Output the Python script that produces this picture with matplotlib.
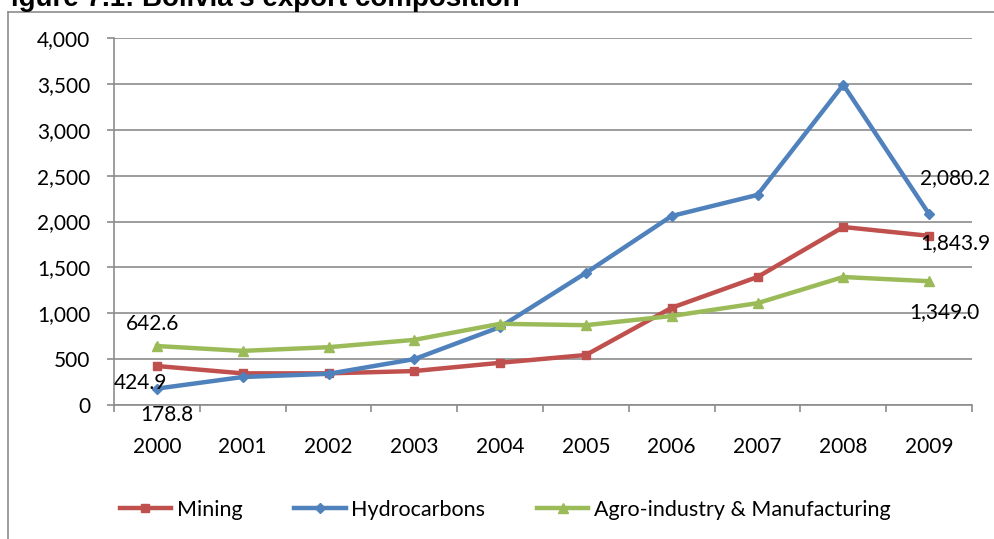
import matplotlib
matplotlib.use("Agg")
import matplotlib.pyplot as plt
from matplotlib.lines import Line2D
from matplotlib.ticker import FuncFormatter, MultipleLocator

plt.rcParams['font.family'] = ['Lato', 'DejaVu Sans']

years = ["2000", "2001", "2002", "2003", "2004", "2005", "2006", "2007", "2008", "2009"]
mining = [424.9, 345, 345, 370, 460, 545, 1060, 1395, 1940, 1843.9]
hydrocarbons = [178.8, 305, 340, 500, 850, 1440, 2060, 2290, 3490, 2080.2]
agro = [642.6, 590, 630, 710, 885, 870, 970, 1110, 1395, 1349.0]

# labels shown on the chart: (series, index, offset in points)
labels = [
    ("agro", 0, (-3, 16)),
    ("mining", 0, (-12, -12)),
    ("hydro", 0, (7, -19)),
    ("hydro", 9, (19, 26)),
    ("mining", 9, (19, -5)),
    ("agro", 9, (11, -22)),
]

red = "#C0504D"
blue = "#4F81BD"
green = "#9BBB59"
grid = "#8C8C8C"

fig = plt.figure(figsize=(9.94, 5.39), dpi=100)
ax = fig.add_axes([114 / 994, 1 - 405 / 539, 858 / 994, 367 / 539])

x = list(range(len(years)))
series = {
    "mining": (mining, red, "s", 5.5, "Mining"),
    "hydro": (hydrocarbons, blue, "D", 5, "Hydrocarbons"),
    "agro": (agro, green, "^", 7.5, "Agro-industry & Manufacturing"),
}
for key in ["mining", "hydro", "agro"]:
    vals, col, mk, ms, name = series[key]
    ax.plot(x, vals, color=col, lw=3.2, marker=mk, ms=ms, label=name, zorder=3)

for key, i, off in labels:
    v = series[key][0][i]
    ax.annotate(f"{v:,.1f}", (i, v), xytext=off, textcoords="offset points",
                ha="center", va="center", fontsize=15, color="black", zorder=4)

ax.set_xlim(-0.5, 9.5)
ax.set_ylim(0, 4000)
ax.yaxis.set_major_locator(MultipleLocator(500))
ax.yaxis.set_major_formatter(FuncFormatter(lambda v, p: f"{int(v):,}"))
ax.set_xticks(x)
ax.set_xticklabels(years)
ax.set_xticks([i - 0.5 for i in range(len(years) + 1)], minor=True)
ax.tick_params(axis="x", which="major", length=0, pad=23, labelsize=15)
ax.tick_params(axis="x", which="minor", length=5, width=1.2, color=grid, direction="out")
ax.tick_params(axis="y", length=5, width=1.2, color=grid, pad=12, labelsize=15)
ax.grid(axis="y", color=grid, lw=1.2, zorder=0)
for s in ["top", "right"]:
    ax.spines[s].set_visible(False)
for s in ["left", "bottom"]:
    ax.spines[s].set_color(grid)
    ax.spines[s].set_linewidth(1.2)

fig.legend(loc="center", bbox_to_anchor=(505 / 994, 1 - 510 / 539), ncol=3,
           frameon=False, fontsize=15.5, handlelength=2.4, handletextpad=0.25,
           columnspacing=2.4)

# outer chart frame (left and top edges visible)
fig.add_artist(Line2D([8 / 994, 8 / 994], [0, 1 - 12 / 539], transform=fig.transFigure, color=grid, lw=1.2))
fig.add_artist(Line2D([8 / 994, 1], [1 - 12 / 539, 1 - 12 / 539], transform=fig.transFigure, color=grid, lw=1.2))

# title cut off at the top of the image
fig.text(-0.006, 1 - 6 / 539, "Figure 7.1: Bolivia's export composition", fontsize=20,
         fontweight="bold", family="Liberation Sans", va="baseline", ha="left")

fig.savefig("out.png", dpi=100)
